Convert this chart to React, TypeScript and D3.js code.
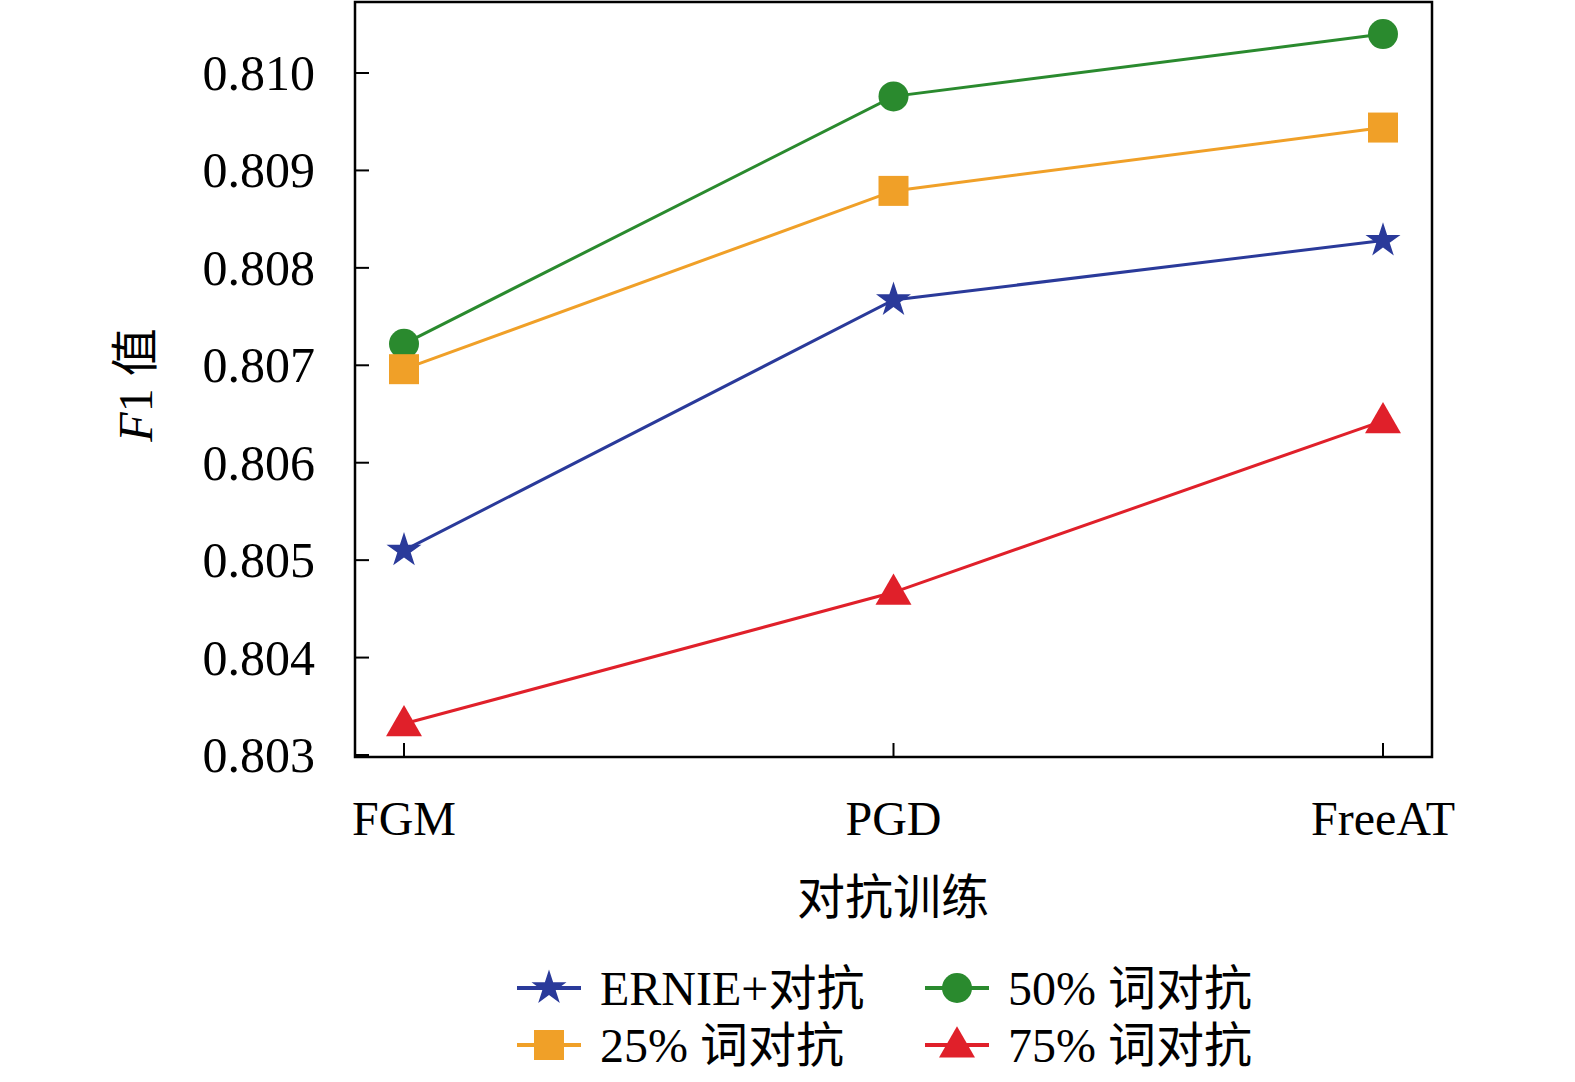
import React from "react";
import * as d3 from "d3";

const categories = ["FGM", "PGD", "FreeAT"];
const seriesNames = ["ERNIE+对抗", "50% 词对抗", "25% 词对抗", "75% 词对抗"];
const ernie = [0.8051, 0.80767, 0.80828];
const w50 = [0.80722, 0.80976, 0.8104];
const w25 = [0.80696, 0.80879, 0.80944];
const w75 = [0.80332, 0.80467, 0.80643];
const yTicks = [0.803, 0.804, 0.805, 0.806, 0.807, 0.808, 0.809, 0.81];

const colors = ["#2a3a9a", "#2a8a2e", "#f0a028", "#e0202a"];
const shapes = ["star", "circle", "square", "triangle"];
const serif = "'Liberation Serif', 'Times New Roman', serif";
const cjk = "'Liberation Serif', 'Noto Sans CJK SC', serif";

function Marker({ shape, x, y, color }: any) {
  if (shape === "circle") return <circle cx={x} cy={y} r={15} fill={color} />;
  if (shape === "square") return <rect x={x - 15} y={y - 15} width={30} height={30} fill={color} />;
  const sym = shape === "star" ? d3.symbolStar : d3.symbolTriangle;
  const size = shape === "star" ? 380 : 560;
  return <path d={d3.symbol().type(sym).size(size)() as string} transform={`translate(${x},${y + (shape === "triangle" ? 2 : 0)})`} fill={color} />;
}

export default function App() {
  const L = 355, R = 1432, T = 2, B = 757;
  const x = d3.scalePoint().domain(categories).range([404, 1383]);
  const y = d3.scaleLinear().domain([0.803, 0.81]).range([755, 73]);
  const data = [ernie, w50, w25, w75];
  const line = d3.line<number>().x((_, i) => x(categories[i])!).y((v) => y(v));
  const legend = [
    { i: 0, lx: 517, ly: 988 },
    { i: 1, lx: 925, ly: 988 },
    { i: 2, lx: 517, ly: 1045 },
    { i: 3, lx: 925, ly: 1045 },
  ];
  return (
    <svg width={1575} height={1082} style={{ position: "absolute", left: 0, top: 0, background: "#fff" }}>
      <rect x={L} y={T} width={R - L} height={B - T} fill="none" stroke="#000" strokeWidth={2.5} />
      {yTicks.map((t) => (
        <g key={t}>
          <line x1={L} x2={L + 14} y1={y(t)} y2={y(t)} stroke="#000" strokeWidth={2} />
          <text x={L - 40} y={y(t)} textAnchor="end" dominantBaseline="central" fontFamily={serif} fontSize={50}>{d3.format(".3f")(t)}</text>
        </g>
      ))}
      {categories.map((c) => (
        <g key={c}>
          <line x1={x(c)} x2={x(c)} y1={B} y2={B - 14} stroke="#000" strokeWidth={2} />
          <text x={x(c)} y={818} textAnchor="middle" dominantBaseline="central" fontFamily={serif} fontSize={48}>{c}</text>
        </g>
      ))}
      <text x={893} y={897} textAnchor="middle" dominantBaseline="central" fontFamily={cjk} fontSize={48}>对抗训练</text>
      <text transform="translate(135,385) rotate(-90)" textAnchor="middle" dominantBaseline="central" fontFamily={cjk} fontSize={48}>
        <tspan fontStyle="italic">F</tspan>1 值
      </text>
      {data.map((d, si) => (
        <g key={si}>
          <path d={line(d) as string} fill="none" stroke={colors[si]} strokeWidth={3} />
          {d.map((v, i) => <Marker key={i} shape={shapes[si]} x={x(categories[i])} y={y(v)} color={colors[si]} />)}
        </g>
      ))}
      {legend.map(({ i, lx, ly }) => (
        <g key={i}>
          <line x1={lx} x2={lx + 64} y1={ly} y2={ly} stroke={colors[i]} strokeWidth={4} />
          <Marker shape={shapes[i]} x={lx + 32} y={ly} color={colors[i]} />
          <text x={lx + 83} y={ly} dominantBaseline="central" fontFamily={cjk} fontSize={48}>{seriesNames[i]}</text>
        </g>
      ))}
    </svg>
  );
}
